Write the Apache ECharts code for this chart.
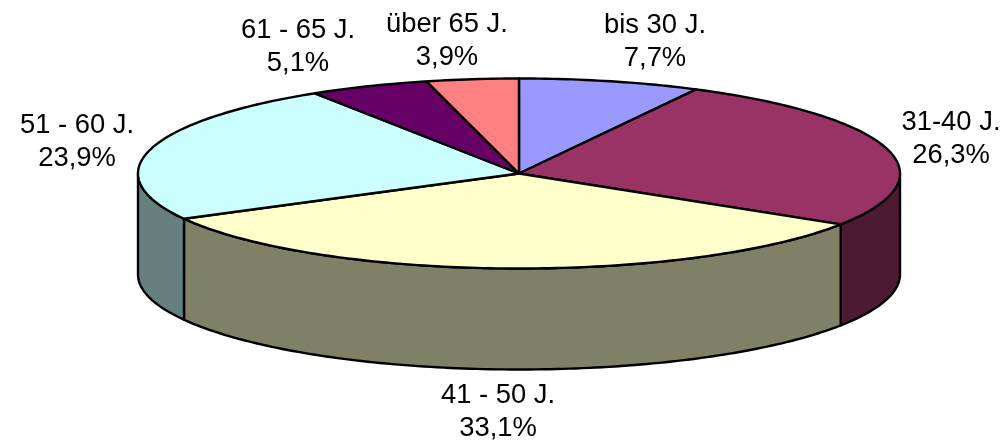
<!DOCTYPE html>
<html>
<head>
<meta charset="utf-8">
<style>
html, body { margin: 0; padding: 0; background: #fff; }
#main { width: 1005px; height: 441px; }
</style>
<script src="https://cdn.jsdelivr.net/npm/echarts@6/dist/echarts.min.js"></script>
</head>
<body>
<div id="main"></div>
<script>
var categories = ['bis 30 J.', '31-40 J.', '41 - 50 J.', '51 - 60 J.', '61 - 65 J.', 'über 65 J.'];
var shares = [7.7, 26.3, 33.1, 23.9, 5.1, 3.9];

var topColors = ['#9999ff', '#993366', '#ffffcc', '#ccffff', '#660066', '#ff8080'];
var sideColors = ['#4d4d80', '#4d1a33', '#808066', '#668080', '#330033', '#804040'];

// where each label sits, centre of the two text lines
var labelSpots = [[655, 42], [951, 139], [498, 412], [77, 142], [298, 47], [447, 41]];

// the tilted disc
var cx = 519, cy = 173.5, rx = 381, ry = 95, depth = 101;

var total = shares.reduce(function (a, b) { return a + b; }, 0);

function rimPoint(deg, drop) {
    var r = deg * Math.PI / 180;
    return [cx + rx * Math.sin(r), cy - ry * Math.cos(r) + drop];
}

function arcPoints(from, to, drop) {
    var pts = [];
    for (var d = from; d < to; d += 1) {
        pts.push(rimPoint(d, drop));
    }
    pts.push(rimPoint(to, drop));
    return pts;
}

function renderSlice(params, api) {
    var i = params.dataIndex;
    var before = 0;
    for (var k = 0; k < i; k++) before += shares[k];
    var start = before / total * 360;
    var end = (before + api.value(0)) / total * 360;
    var line = { stroke: '#000', lineWidth: 2.4, lineJoin: 'round' };
    var children = [];

    // only the front half of the rim shows a wall
    var wallFrom = Math.max(start, 90);
    var wallTo = Math.min(end, 270);
    if (wallFrom < wallTo) {
        var wall = arcPoints(wallFrom, wallTo, 0).concat(arcPoints(wallFrom, wallTo, depth).reverse());
        children.push({
            type: 'polygon',
            shape: { points: wall },
            style: Object.assign({ fill: sideColors[i] }, line)
        });
    }

    children.push({
        type: 'polygon',
        shape: { points: [[cx, cy]].concat(arcPoints(start, end, 0)) },
        style: Object.assign({ fill: topColors[i] }, line)
    });

    children.push({
        type: 'text',
        style: {
            x: labelSpots[i][0],
            y: labelSpots[i][1],
            text: categories[i] + '\n' + String(shares[i]).replace('.', ',') + '%',
            fill: '#000',
            font: '27.4px "Liberation Sans"',
            lineHeight: 33,
            align: 'center',
            verticalAlign: 'middle'
        }
    });

    return { type: 'group', children: children };
}

var myChart = echarts.init(document.getElementById('main'), null, { renderer: 'canvas' });

myChart.setOption({
    backgroundColor: '#fff',
    animation: false,
    series: [{
        type: 'custom',
        coordinateSystem: 'none',
        renderItem: renderSlice,
        data: shares.map(function (v) { return [v]; })
    }]
});
</script>
</body>
</html>
